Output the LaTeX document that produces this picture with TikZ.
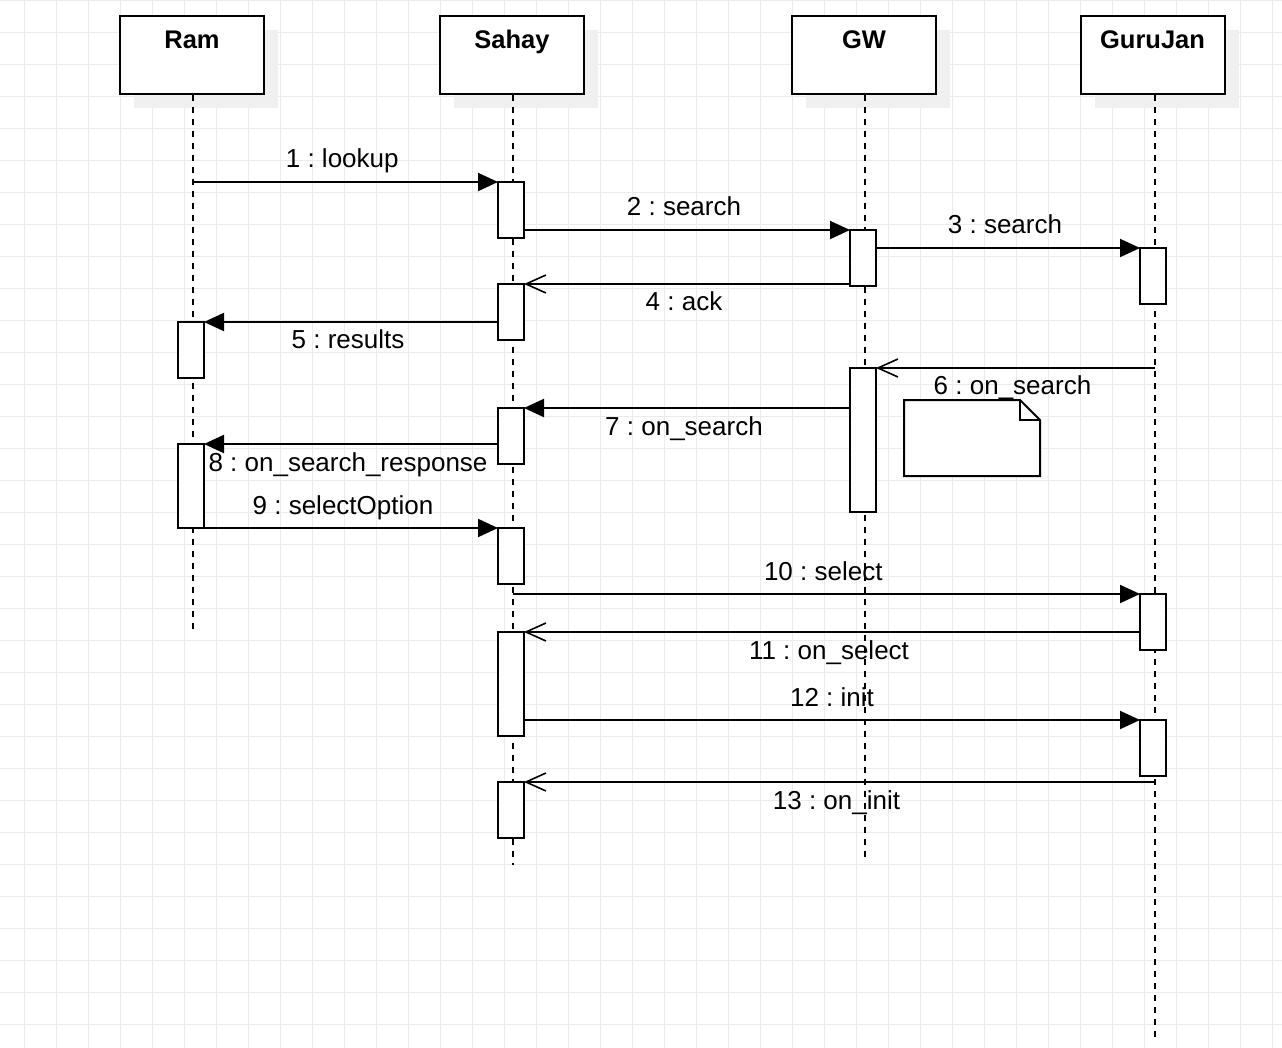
\documentclass[tikz,border=0pt]{standalone}
\usepackage{fontspec}
\setmainfont{Liberation Sans}
\usetikzlibrary{arrows.meta,shadows}
\definecolor{gridc}{HTML}{EBEBEB}
\definecolor{shadowc}{HTML}{F0F0F0}
\begin{document}
\frenchspacing
\begin{tikzpicture}[x=1pt,y=-1pt,
  every node/.style={font=\fontsize{26}{30}\selectfont},
  head/.style={draw, line width=2pt, fill=white, minimum width=144pt, minimum height=78pt, inner sep=0pt, outer sep=0pt, anchor=north,
    drop shadow={shadow xshift=14pt, shadow yshift=-14pt, fill=shadowc, opacity=1, draw=none}},
  headlbl/.style={font=\fontsize{25.5}{30}\selectfont\bfseries, anchor=base, inner sep=0pt},
  bar/.style={draw, line width=2pt, fill=white, minimum width=26pt, inner sep=0pt, outer sep=0pt, anchor=north},
  life/.style={line width=2pt, dash pattern=on 6pt off 6pt},
  sync/.style={line width=2pt, -{Triangle[length=20pt, width=18pt]}},
  async/.style={line width=2pt, -{Straight Barb[length=20pt, width=18pt, line width=1.6pt]}},
  lblA/.style={midway, anchor=base, yshift=14pt, xshift=-3pt, inner sep=0pt},
  lblB/.style={midway, anchor=base, yshift=-27pt, xshift=-3pt, inner sep=0pt},
  notebox/.style={line width=2pt, fill=white}
]
\useasboundingbox (0,0) rectangle (1282,1048);
\fill[white] (0,0) rectangle (1282,1048);
\foreach \x in {24.5,56.5,...,1272.5} \draw[gridc, line width=1pt] (\x,0) -- (\x,1048);
\foreach \y in {0.5,32.5,...,1040.5} \draw[gridc, line width=1pt] (0,\y) -- (1282,\y);

% headers
\node[head] (ram) at (192,16) {};
\node[head] (sahay) at (512,16) {};
\node[head] (gw) at (864,16) {};
\node[head] (guru) at (1152.5,16) {};
\node[headlbl] (ramL) at ([yshift=-33pt]ram.north) {Ram};
\node[headlbl] (sahayL) at ([yshift=-33pt]sahay.north) {Sahay};
\node[headlbl] (gwL) at ([yshift=-33pt]gw.north) {GW};
\node[headlbl] (guruL) at ([yshift=-33pt]guru.north) {GuruJan};

% lifelines
\coordinate (ramT) at (192.5,95);  \coordinate (ramE) at (192.5,630);
\coordinate (sahT) at (512.5,95);  \coordinate (sahE) at (512.5,865);
\coordinate (gwT) at (865,95);     \coordinate (gwE) at (865,858);
\coordinate (guT) at (1155,95);    \coordinate (guE) at (1155,1037);
\draw[life] (ramT) -- (ramE);
\draw[life] (sahT) -- (sahE);
\draw[life] (gwT) -- (gwE);
\draw[life] (guT) -- (guE);

% activation bars
\node[bar, minimum height=56pt] (s1) at (511,182) {};
\node[bar, minimum height=56pt] (g1) at (863,230) {};
\node[bar, minimum height=56pt] (j1) at (1153,248) {};
\node[bar, minimum height=56pt] (s2) at (511,284) {};
\node[bar, minimum height=56pt] (r1) at (191,322) {};
\node[bar, minimum height=144pt] (g2) at (863,368) {};
\node[bar, minimum height=56pt] (s3) at (511,408) {};
\node[bar, minimum height=84pt] (r2) at (191,444) {};
\node[bar, minimum height=56pt] (s4) at (511,528) {};
\node[bar, minimum height=56pt] (j2) at (1153,594) {};
\node[bar, minimum height=104pt] (s5) at (511,632) {};
\node[bar, minimum height=56pt] (j3) at (1153,720) {};
\node[bar, minimum height=56pt] (s6) at (511,782) {};

% note
\node[minimum width=136pt, minimum height=76pt, inner sep=0pt, outer sep=0pt] (note) at (972,438) {};
\draw[notebox] (note.south west) -- (note.north west) -- ([xshift=-20pt]note.north east)
  -- ([yshift=-20pt]note.north east) -- (note.south east) -- cycle;
\draw[line width=2pt] ([xshift=-20pt]note.north east) -- ([xshift=-20pt,yshift=-20pt]note.north east) -- ([yshift=-20pt]note.north east);

% messages
\coordinate (m1s) at (192.5,182);
\draw[sync] (m1s) -- (s1.north west) node[lblA] (t1) {1 : lookup};
\draw[sync] (s1.east |- g1.north) -- (g1.north west) node[lblA] (t2) {2 : search};
\draw[sync] (g1.east |- j1.north) -- (j1.north west) node[lblA] (t3) {3 : search};
\draw[async] (g1.west |- s2.north) -- (s2.north east) node[lblB] (t4) {4 : ack};
\draw[sync] (s2.west |- r1.north) -- (r1.north east) node[lblB] (t5) {5 : results};
\coordinate (m6s) at (1155,368);
\draw[async] (m6s) -- (g2.north east) node[lblB] (t6) {6 : on\_search};
\draw[sync] (g2.west |- s3.north) -- (s3.north east) node[lblB] (t7) {7 : on\_search};
\draw[sync] (s3.west |- r2.north) -- (r2.north east) node[lblB] (t8) {8 : on\_search\_response};
\draw[sync] (r2.south east) -- (s4.north west) node[lblA, xshift=-5pt] (t9) {9 : selectOption};
\coordinate (m10s) at (512.5,594);
\draw[sync] (m10s) -- (j2.north west) node[lblA] (t10) {10 : select};
\draw[async] (j2.west |- s5.north) -- (s5.north east) node[lblB] (t11) {11 : on\_select};
\draw[sync] (s5.east |- j3.north) -- (j3.north west) node[lblA, xshift=3pt] (t12) {12 : init};
\coordinate (m13s) at (1155,782);
\draw[async] (m13s) -- (s6.north east) node[lblB] (t13) {13 : on\_init};
\end{tikzpicture}
\end{document}
